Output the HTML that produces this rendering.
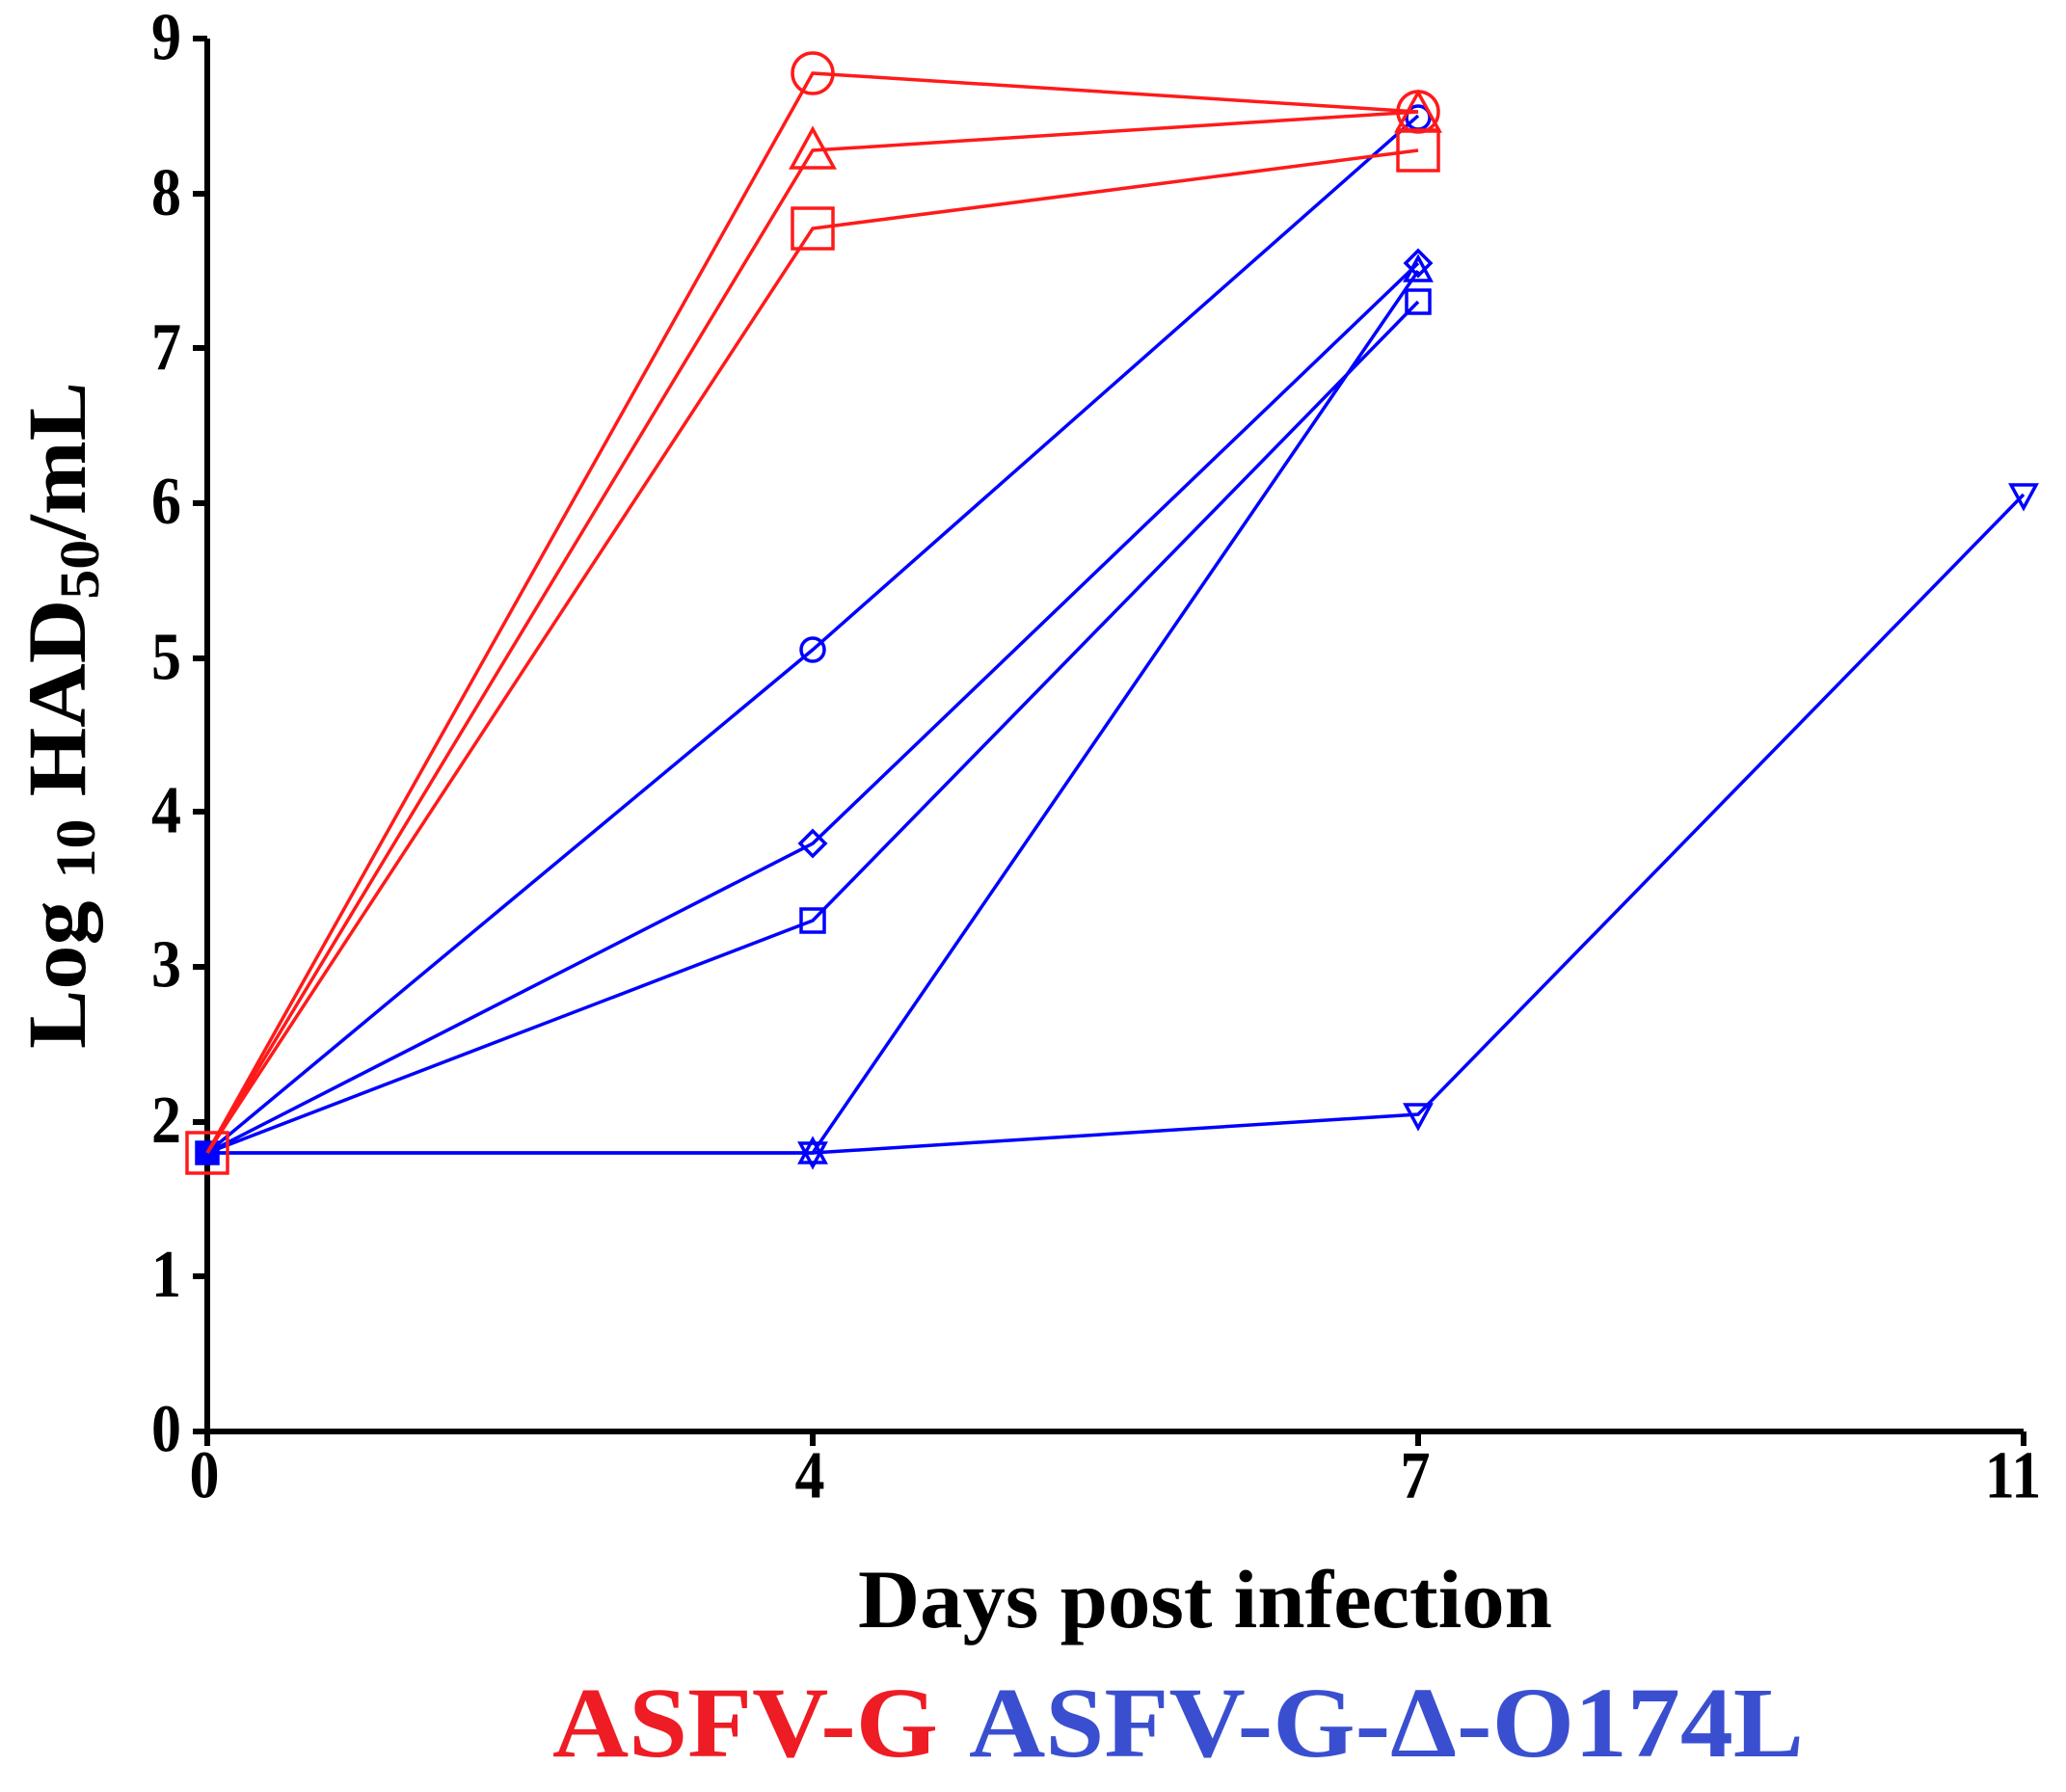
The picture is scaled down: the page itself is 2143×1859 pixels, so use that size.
<!DOCTYPE html>
<html><head><meta charset="utf-8"><style>html,body{margin:0;padding:0;background:#fff}svg{display:block}</style></head>
<body>
<svg width="2143" height="1859" viewBox="0 0 2143 1859" xmlns="http://www.w3.org/2000/svg" font-family="Liberation Serif, serif" font-weight="bold">
<g stroke="#000" stroke-width="6" fill="none">
<line x1="215" y1="40" x2="215" y2="1488"/>
<line x1="212" y1="1485" x2="2099" y2="1485"/>
<line x1="200" y1="40" x2="215" y2="40"/>
<line x1="200" y1="201" x2="215" y2="201"/>
<line x1="200" y1="361" x2="215" y2="361"/>
<line x1="200" y1="522" x2="215" y2="522"/>
<line x1="200" y1="683" x2="215" y2="683"/>
<line x1="200" y1="842" x2="215" y2="842"/>
<line x1="200" y1="1003" x2="215" y2="1003"/>
<line x1="200" y1="1164" x2="215" y2="1164"/>
<line x1="200" y1="1324" x2="215" y2="1324"/>
<line x1="200" y1="1485" x2="215" y2="1485"/>
<line x1="215" y1="1485" x2="215" y2="1500"/>
<line x1="843" y1="1485" x2="843" y2="1500"/>
<line x1="1471" y1="1485" x2="1471" y2="1500"/>
<line x1="2099" y1="1485" x2="2099" y2="1500"/>
</g>
<g font-size="62" text-anchor="end" fill="#000" transform="scale(1,1.12)">
<text x="188" y="55">9</text><text x="188" y="199">8</text><text x="188" y="342">7</text>
<text x="188" y="485">6</text><text x="188" y="629">5</text><text x="188" y="771">4</text>
<text x="188" y="914">3</text><text x="188" y="1058">2</text><text x="188" y="1201">1</text>
<text x="188" y="1344">0</text>
</g>
<g font-size="62" text-anchor="middle" fill="#000" transform="scale(1,1.12)">
<text x="212" y="1387">0</text><text x="840" y="1387">4</text><text x="1468" y="1387">7</text><text x="2088" y="1387">11</text>
</g>
<text x="1250" y="1688" font-size="86" text-anchor="middle" textLength="720" lengthAdjust="spacingAndGlyphs">Days post infection</text>
<text x="573" y="1822" font-size="104" fill="#ee1c24" textLength="400" lengthAdjust="spacingAndGlyphs">ASFV-G</text>
<text x="1005" y="1822" font-size="104" fill="#3a4fd0" textLength="866" lengthAdjust="spacingAndGlyphs">ASFV-G-Δ-O174L</text>
<text transform="translate(88,742) rotate(-90)" font-size="86" text-anchor="middle" textLength="692" lengthAdjust="spacingAndGlyphs">Log <tspan font-size="58" dy="10">10</tspan><tspan dy="-10"> HAD</tspan><tspan font-size="58" dy="14">50</tspan><tspan dy="-14">/mL</tspan></text>

<g stroke="#0000ff" stroke-width="3.5" fill="none">
<polyline points="215,1196 843,674 1471,120"/>
<polyline points="215,1196 843,875 1471,273"/>
<polyline points="215,1196 843,955 1471,313"/>
<polyline points="215,1196 843,1196 1471,281"/>
<polyline points="215,1196 843,1196 1471,1156 2099,513"/>
<circle cx="843" cy="674" r="12"/><circle cx="1471" cy="122" r="12"/>
<polygon points="843,862 856,875 843,888 830,875"/><polygon points="1471,260 1484,273 1471,286 1458,273"/>
<rect x="831" y="943" width="24" height="24"/><rect x="1459" y="301" width="24" height="24"/>
<polygon points="843,1182 856,1206 830,1206"/><polygon points="1471,267 1484,291 1458,291"/>
<polygon points="830,1186 856,1186 843,1210"/><polygon points="1458,1146 1484,1146 1471,1170"/><polygon points="2086,503 2112,503 2099,527"/>
<rect x="204" y="1185" width="22" height="22" fill="#0000ff"/>
</g>
<g stroke="#ff1a1a" stroke-width="3.5" fill="none">
<polyline points="215,1196 843,76 1471,116"/>
<polyline points="215,1196 843,156 1471,116"/>
<polyline points="215,1196 843,237 1471,156"/>
<circle cx="843" cy="76" r="21"/><circle cx="1471" cy="116" r="21"/>
<polygon points="843,134 865,174 821,174"/><polygon points="1471,96 1493,136 1449,136"/>
<rect x="822" y="216" width="42" height="42"/><rect x="1450" y="135" width="42" height="42"/>
<rect x="194" y="1175" width="42" height="42"/>
</g>
</svg>
</body></html>
